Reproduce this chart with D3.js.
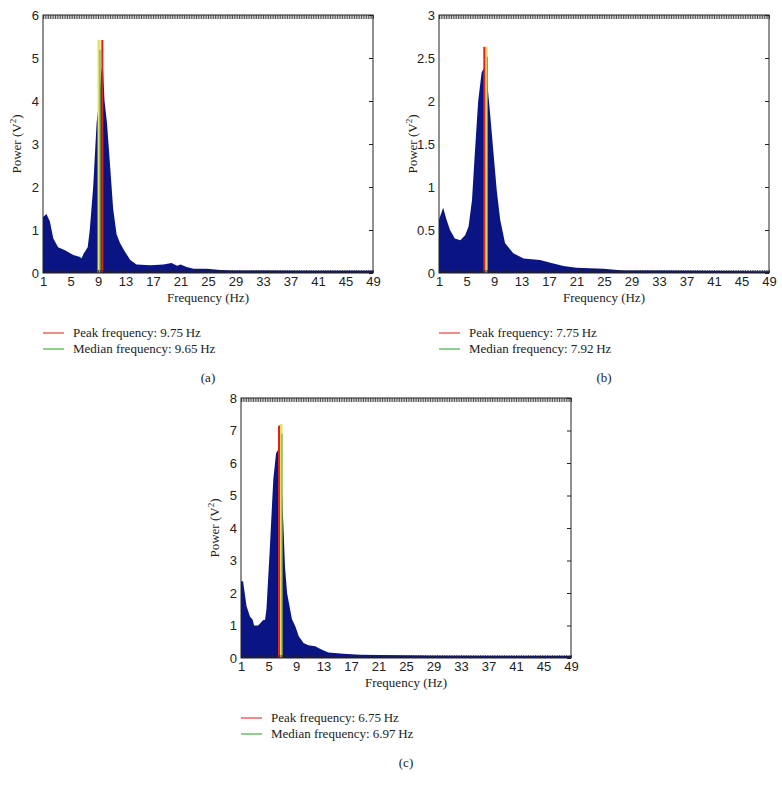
<!DOCTYPE html>
<html>
<head>
<meta charset="utf-8">
<script src="https://cdn.jsdelivr.net/npm/d3@7"></script>
<style>
  html, body { margin: 0; padding: 0; background: #fff; }
  svg { display: block; font-family: "Liberation Serif", "DejaVu Serif", serif; }
  .tick text { font-size: 13px; fill: #222; }
  .lbl { font-size: 13px; fill: #222; }
</style>
</head>
<body>
<svg id="chart" width="782" height="786"></svg>
<script>
// spectra (Hz, V^2)
const freqA  = [1, 1.5, 2, 2.5, 3.2, 4.2, 5.4, 6.4, 6.6, 6.9, 7.5, 7.8, 8.3, 8.8, 9.1, 9.5, 9.7, 9.95, 10.3, 10.8, 11.2, 11.7, 12.2, 12.9, 13.7, 14.6, 16.6, 18.5, 19.7, 20.5, 21, 21.9, 22.9, 24.8, 26.8, 28.7, 33.6, 38.4, 43.3, 49];
const powerA = [1.3, 1.37, 1.2, 0.8, 0.6, 0.53, 0.42, 0.37, 0.34, 0.45, 0.6, 1.0, 2.0, 3.5, 3.9, 4.7, 4.85, 4.0, 3.5, 2.4, 1.5, 0.9, 0.7, 0.5, 0.3, 0.2, 0.18, 0.2, 0.23, 0.17, 0.2, 0.14, 0.1, 0.1, 0.07, 0.06, 0.06, 0.05, 0.05, 0.05];

const freqB  = [1, 1.6, 2.1, 2.6, 3.3, 4.1, 4.8, 5.3, 5.8, 6.2, 6.7, 7.2, 7.5, 7.7, 8.0, 8.4, 8.9, 9.4, 9.9, 10.6, 11.8, 13.3, 15.7, 17.2, 19.1, 21, 24.9, 27.8, 32.7, 49];
const powerB = [0.62, 0.76, 0.62, 0.5, 0.4, 0.38, 0.44, 0.54, 0.85, 1.38, 2.0, 2.33, 2.38, 2.33, 2.23, 1.88, 1.42, 0.96, 0.62, 0.35, 0.23, 0.17, 0.15, 0.12, 0.08, 0.06, 0.05, 0.03, 0.03, 0.02];

const freqC  = [1, 1.3, 1.8, 2.3, 2.7, 2.9, 3.5, 4.2, 4.5, 4.7, 5.2, 5.7, 6.1, 6.5, 6.8, 7.1, 7.4, 7.7, 8.4, 8.9, 9.4, 10.1, 10.8, 11.8, 12.7, 13.7, 15.9, 18.3, 21.2, 29, 49];
const powerC = [2.36, 2.36, 1.6, 1.28, 1.18, 1.0, 1.0, 1.16, 1.18, 1.5, 3.4, 5.5, 6.3, 6.45, 5.9, 4.45, 2.8, 2.0, 1.2, 0.98, 0.67, 0.46, 0.39, 0.36, 0.26, 0.17, 0.13, 0.1, 0.09, 0.07, 0.06];

const xTicks = [1, 5, 9, 13, 17, 21, 25, 29, 33, 37, 41, 45, 49];
const yMaxes = [6, 3, 8];
const yTicksA = [0, 1, 2, 3, 4, 5, 6];
const yTicksB = [0, 0.5, 1, 1.5, 2, 2.5, 3];
const yTicksC = [0, 1, 2, 3, 4, 5, 6, 7, 8];

// marker lines as drawn in the picture: [x position, top]
const peakLines   = [[9.63, 5.42], [7.59, 2.63], [6.53, 7.15]];
const medianLines = [[9.15, 5.42], [7.88, 2.63], [6.82, 7.2]];
const peakText   = ["Peak frequency: 9.75\u2009Hz", "Peak frequency: 7.75\u2009Hz", "Peak frequency: 6.75\u2009Hz"];
const medianText = ["Median frequency: 9.65\u2009Hz", "Median frequency: 7.92\u2009Hz", "Median frequency: 6.97\u2009Hz"];
const panelTags  = ["(a)", "(b)", "(c)"];

const BOX = [
  { left: 43,  top: 15,  w: 330, h: 258 },
  { left: 439, top: 15,  w: 330, h: 258 },
  { left: 241, top: 398, w: 330, h: 260 }
];
const FILL = "#0b1483";

const svg = d3.select("#chart");

function panel(i, freq, power, yTicks) {
  const b = BOX[i];
  const g = svg.append("g").attr("transform", `translate(${b.left},${b.top})`);
  const x = d3.scaleLinear().domain([1, 49]).range([0, b.w]);
  const y = d3.scaleLinear().domain([0, yMaxes[i]]).range([b.h, 0]);
  const pts = freq.map((f, k) => [f, power[k]]);

  g.append("path").datum(pts)
    .attr("fill", FILL)
    .attr("d", d3.area().x(d => x(d[0])).y0(y(0)).y1(d => y(d[1])));

  // median line (yellow with a thin green core) and peak line (red)
  const [mx, mt] = medianLines[i];
  g.append("line").attr("x1", x(mx)).attr("x2", x(mx)).attr("y1", y(0)).attr("y2", y(mt))
    .attr("stroke", "#e4e06a").attr("stroke-width", 3);
  g.append("line").attr("x1", x(mx) + 1).attr("x2", x(mx) + 1).attr("y1", y(0)).attr("y2", y(mt) + 10)
    .attr("stroke", "#3f8f2a").attr("stroke-width", 0.8);
  const [px, pt] = peakLines[i];
  g.append("line").attr("x1", x(px)).attr("x2", x(px)).attr("y1", y(0)).attr("y2", y(pt))
    .attr("stroke", "#e0231f").attr("stroke-width", 2);

  // dense bin ticks along the top and bottom
  const bins = d3.range(1, 49.001, 0.25);
  g.append("g")
    .call(d3.axisBottom(x).tickValues(bins).tickSize(4).tickFormat(""))
    .call(s => s.select(".domain").remove())
    .selectAll("line").attr("stroke", "#222").attr("stroke-width", 0.8);
  g.append("g").attr("transform", `translate(0,${b.h})`)
    .call(d3.axisTop(x).tickValues(bins).tickSize(3).tickFormat(""))
    .call(s => s.select(".domain").remove())
    .selectAll("line").attr("stroke", "#223").attr("stroke-width", 0.8);

  // axis labels
  g.append("g").attr("transform", `translate(0,${b.h})`)
    .call(d3.axisBottom(x).tickValues(xTicks).tickSize(0).tickPadding(4).tickFormat(d3.format("d")))
    .call(s => s.select(".domain").remove());
  g.append("g")
    .call(d3.axisLeft(y).tickValues(yTicks).tickSize(0).tickPadding(4).tickFormat(d => String(d)))
    .call(s => s.select(".domain").remove());
  g.append("g").attr("transform", `translate(${b.w},0)`)
    .call(d3.axisLeft(y).tickValues(yTicks).tickSize(4).tickFormat(""))
    .call(s => s.select(".domain").remove())
    .selectAll("line").attr("stroke", "#222");

  g.append("rect").attr("width", b.w).attr("height", b.h)
    .attr("fill", "none").attr("stroke", "#222").attr("stroke-width", 1);

  const yl = g.append("text").attr("class", "lbl").attr("text-anchor", "middle")
    .attr("transform", `translate(-22,${b.h / 2}) rotate(-90)`);
  yl.append("tspan").text("Power (V");
  yl.append("tspan").attr("dy", -5).attr("font-size", 9).text("2");
  yl.append("tspan").attr("dy", 5).text(")");

  g.append("text").attr("class", "lbl").attr("text-anchor", "middle")
    .attr("x", b.w / 2).attr("y", b.h + 29).text("Frequency (Hz)");

  const lg = g.append("g").attr("transform", `translate(0,${b.h + 60})`);
  [[peakText[i], "#e8504a"], [medianText[i], "#52b84e"]].forEach((r, k) => {
    lg.append("line").attr("x1", 0).attr("x2", 21).attr("y1", k * 16).attr("y2", k * 16)
      .attr("stroke", r[1]).attr("stroke-width", 1.3);
    lg.append("text").attr("class", "lbl").attr("x", 30).attr("y", k * 16 + 4).text(r[0]);
  });

  g.append("text").attr("class", "lbl").attr("text-anchor", "middle")
    .attr("x", b.w / 2).attr("y", b.h + 109).text(panelTags[i]);
}

panel(0, freqA, powerA, yTicksA);
panel(1, freqB, powerB, yTicksB);
panel(2, freqC, powerC, yTicksC);
</script>
</body>
</html>
